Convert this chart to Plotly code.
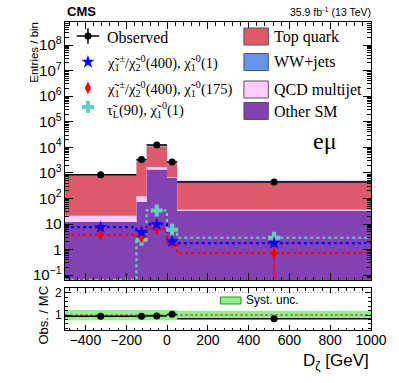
import numpy as np
import plotly.graph_objects as go

# D_zeta bins and yields
bin_edges = [-500, -150, -100, 0, 50, 1000]
observed = [850, 3300, 12300, 2680, 435]
other_sm = [12, 72, 1340, 630, 32]
qcd_multijet = [9, 50, 360, 40, 4]
top_quark = [780, 2780, 9000, 1480, 390]
ww_jets = [80, 500, 1900, 450, 70]

# signals
sig_c1n2_1 = [7.5, 4.8, 9.6, 2.1, 1.8]
sig_c1n2_1_err = [0.8, 1.0, 1.3, 0.5, 0.3]
sig_c1n2_175 = [3.8, 3.0, 6.5, 1.8, 0.72]
sig_c1n2_175_err = [0.6, 0.5, 1.0, 0.4, 0.65]
sig_stau = [0.066, 2.4, 34, 5.9, 2.9]
sig_stau_err = [0.0, 0.8, 4.0, 1.2, 0.5]

# ratio panel
ratio = [0.94, 0.94, 0.96, 1.03, 0.83]
syst_lo = [0.77, 0.77, 0.77, 0.77, 0.85]
syst_hi = [1.22, 1.22, 1.22, 1.22, 1.19]

edges = np.array(bin_edges, dtype=float)
centers = (edges[:-1] + edges[1:]) / 2
widths = edges[1:] - edges[:-1]

SANS = "Liberation Sans, Arial, sans-serif"
SERIF = "Liberation Serif, Times New Roman, serif"

C_TOP = "#de5a6a"
C_WW = "#6495ed"
C_QCD = "#ffccff"
C_OTHER = "#8242b4"
C_BLUE = "#0000ff"
C_RED = "#ff0000"
C_TEAL = "#62cfbf"
C_GREEN = "#8ef28a"

# pixel -> paper helpers (plot area is x 65..378, y 22..330)
L, R, T, B = 65, 378, 22, 330
def px(x):
    return (x - L) / (R - L)
def py(y):
    return (B - y) / (B - T)

def step(vals):
    return list(vals) + [vals[-1]]

fig = go.Figure()

# stacked backgrounds as filled steps
fig.add_trace(go.Scatter(x=edges, y=[1e-4] * len(edges), mode="lines",
                         line=dict(shape="hv", width=0), xaxis="x", yaxis="y"))
cum = np.zeros(len(centers))
for vals, col in [(other_sm, C_OTHER), (qcd_multijet, C_QCD), (top_quark, C_TOP), (ww_jets, C_WW)]:
    cum = cum + np.array(vals, dtype=float)
    fig.add_trace(go.Scatter(x=edges, y=step(cum), mode="lines", line=dict(shape="hv", width=0, color=col),
                             fill="tonexty", fillcolor=col, xaxis="x", yaxis="y"))

# signals as dotted step lines + markers
for vals, col in [(sig_stau, C_TEAL), (sig_c1n2_1, C_BLUE), (sig_c1n2_175, C_RED)]:
    fig.add_trace(go.Scatter(x=edges, y=step(vals), mode="lines",
                             line=dict(shape="hv", dash="dot", width=2.2, color=col),
                             xaxis="x", yaxis="y"))

fig.add_trace(go.Scatter(x=centers[1:], y=sig_stau[1:], mode="markers",
                         marker=dict(symbol="cross", size=10, color=C_TEAL),
                         error_y=dict(type="data", array=sig_stau_err[1:], width=0, thickness=1.5, color=C_TEAL),
                         xaxis="x", yaxis="y"))
fig.add_trace(go.Scatter(x=centers, y=sig_c1n2_175, mode="markers",
                         marker=dict(symbol="diamond-tall", size=9, color=C_RED),
                         error_y=dict(type="data", array=sig_c1n2_175_err, width=0, thickness=1.5, color=C_RED),
                         xaxis="x", yaxis="y"))
fig.add_trace(go.Scatter(x=centers, y=sig_c1n2_1, mode="markers",
                         marker=dict(symbol="star", size=10, color=C_BLUE),
                         error_y=dict(type="data", array=sig_c1n2_1_err, width=0, thickness=1.5, color=C_BLUE),
                         xaxis="x", yaxis="y"))

# observed
fig.add_trace(go.Scatter(x=centers, y=observed, mode="markers",
                         marker=dict(color="black", size=7),
                         error_x=dict(type="data", array=widths / 2, width=0, thickness=1.5, color="black"),
                         error_y=dict(type="data", array=np.sqrt(observed), width=0, thickness=1.5, color="black"),
                         xaxis="x", yaxis="y"))

# ratio panel: syst band
fig.add_trace(go.Scatter(x=edges, y=step(syst_lo), mode="lines", line=dict(shape="hv", width=0, color=C_GREEN),
                         xaxis="x2", yaxis="y2"))
fig.add_trace(go.Scatter(x=edges, y=step(syst_hi), mode="lines", line=dict(shape="hv", width=0, color=C_GREEN),
                         fill="tonexty", fillcolor=C_GREEN, xaxis="x2", yaxis="y2"))
fig.add_trace(go.Scatter(x=[-500, 1000], y=[1, 1], mode="lines", line=dict(color="#ee1111", width=1, dash="3px,2px"),
                         xaxis="x2", yaxis="y2"))
fig.add_trace(go.Scatter(x=[-500, 1000], y=[2, 2], mode="lines", line=dict(color="#999999", width=1, dash="1px,2px"),
                         xaxis="x2", yaxis="y2"))
fig.add_trace(go.Scatter(x=centers, y=ratio, mode="markers",
                         marker=dict(color="black", size=7),
                         error_x=dict(type="data", array=widths / 2, width=0, thickness=1.5, color="black"),
                         xaxis="x2", yaxis="y2"))

# legend symbols on an invisible overlay axis (paper-like coordinates)
fig.add_trace(go.Scatter(x=[px(77), px(100)], y=[py(36), py(36)], mode="lines", line=dict(color="black", width=1.5),
                         xaxis="x3", yaxis="y3"))
fig.add_trace(go.Scatter(x=[px(88.5)], y=[py(36)], mode="markers", marker=dict(color="black", size=7),
                         error_y=dict(type="constant", value=0.025, width=0, thickness=1.5, color="black"),
                         xaxis="x3", yaxis="y3"))
fig.add_trace(go.Scatter(x=[px(88.5)], y=[py(62)], mode="markers", marker=dict(symbol="star", size=10, color=C_BLUE),
                         xaxis="x3", yaxis="y3"))
fig.add_trace(go.Scatter(x=[px(88.5)], y=[py(88)], mode="markers", marker=dict(symbol="diamond-tall", size=9, color=C_RED),
                         xaxis="x3", yaxis="y3"))
fig.add_trace(go.Scatter(x=[px(88.5)], y=[py(107)], mode="markers", marker=dict(symbol="cross", size=10, color=C_TEAL),
                         xaxis="x3", yaxis="y3"))

shapes = []
for yc, col in [(36.5, C_TOP), (62, C_WW), (89.5, C_QCD), (111, C_OTHER)]:
    shapes.append(dict(type="rect", xref="paper", yref="paper", x0=px(248), x1=px(273),
                       y0=py(yc + 8.5), y1=py(yc - 8.5), fillcolor=col, line=dict(color="#555555", width=1)))
# syst unc legend box
shapes.append(dict(type="rect", xref="paper", yref="paper", x0=px(224), x1=px(245), y0=py(304), y1=py(297),
                   fillcolor=C_GREEN, line=dict(color="#2e8b2e", width=1)))

ann = []
def text(x, y, s, size, family=SANS, xanchor="left", yanchor="middle", angle=0):
    ann.append(dict(x=px(x), y=py(y), xref="paper", yref="paper", text=s, showarrow=False,
                    font=dict(family=family, size=size, color="black"), xanchor=xanchor,
                    yanchor=yanchor, textangle=angle))

text(65, 12, "<b>CMS</b>", 13)
text(380, 12, "35.9 fb<sup>-1</sup> (13 TeV)", 10.5, xanchor="right")
text(33, 52, "Entries / bin", 11.5, xanchor="center", angle=-90)
text(43, 315, "Obs. / MC", 13, xanchor="center", angle=-90)
text(378, 362, "D<sub>ζ</sub> [GeV]", 17, xanchor="right")
text(331, 141, "eμ", 24, family=SERIF, xanchor="center")

text(106, 37, "Observed", 16, family=SERIF)
text(106, 63, "χ̃<sub>1</sub><sup>±</sup>/χ̃<sub>2</sub><sup>0</sup>(400), χ̃<sub>1</sub><sup>0</sup>(1)", 14.5, family=SERIF)
text(106, 89, "χ̃<sub>1</sub><sup>±</sup>/χ̃<sub>2</sub><sup>0</sup>(400), χ̃<sub>1</sub><sup>0</sup>(175)", 14.5, family=SERIF)
text(106, 110, "τ̃<sub>L</sub>(90), χ̃<sub>1</sub><sup>0</sup>(1)", 14.5, family=SERIF)

text(277, 37, "Top quark", 16, family=SERIF)
text(277, 62, "WW+jets", 16, family=SERIF)
text(277, 90, "QCD multijet", 16, family=SERIF)
text(277, 111, "Other SM", 16, family=SERIF)
text(248, 300, "Syst. unc.", 12)

axis_common = dict(showline=True, linecolor="black", linewidth=1, mirror="allticks", ticks="inside",
                   tickcolor="black", showgrid=False, zeroline=False)

fig.update_layout(
    width=399, height=383,
    margin=dict(l=L, r=399 - R, t=T, b=383 - B),
    paper_bgcolor="white", plot_bgcolor="rgba(0,0,0,0)",
    showlegend=False,
    font=dict(family=SANS, color="black"),
    xaxis=dict(axis_common, domain=[0, 1], anchor="y", range=[-500, 1000], dtick=200, tick0=0,
               ticklen=7, showticklabels=False, minor=dict(ticks="inside", dtick=40, ticklen=3.5, tickcolor="black")),
    yaxis=dict(axis_common, domain=[py(280), 1], anchor="x", type="log", range=[-1.19, 8.9], dtick=1,
               exponentformat="power", ticklen=8, tickfont=dict(size=12, family=SANS),
               minor=dict(ticks="inside", dtick="D1", ticklen=4, tickcolor="black")),
    xaxis2=dict(axis_common, domain=[0, 1], anchor="y2", range=[-500, 1000], dtick=200, tick0=0,
                ticklen=5, tickfont=dict(size=14, family=SANS), ticklabelstandoff=-3,
                minor=dict(ticks="inside", dtick=40, ticklen=2.5, tickcolor="black")),
    yaxis2=dict(axis_common, domain=[0, py(288)], anchor="x2", range=[0.33, 2.21], dtick=1, tick0=0,
                ticklen=6, tickfont=dict(size=12, family=SANS),
                minor=dict(ticks="inside", dtick=0.2, ticklen=3, tickcolor="black")),
    xaxis3=dict(domain=[0, 1], range=[0, 1], visible=False, anchor="y3"),
    yaxis3=dict(domain=[0, 1], range=[0, 1], visible=False, anchor="x3"),
    shapes=shapes, annotations=ann,
)

fig.write_html("out.html", config={"displayModeBar": False},
               post_script="document.body.style.margin='0';")
